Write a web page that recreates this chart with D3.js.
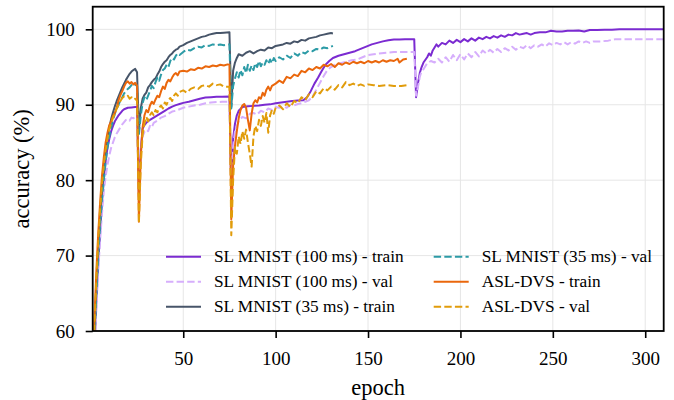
<!DOCTYPE html>
<html>
<head>
<meta charset="utf-8">
<script src="https://cdn.jsdelivr.net/npm/d3@7"></script>
<style>
  body { margin: 0; background: #fff; }
  svg { display: block; }
  svg text { font-family: "Liberation Serif", "Times New Roman", serif; fill: #000; }
</style>
</head>
<body>
<svg id="chart" width="674" height="400"></svg>
<script>
// accuracy (%) per epoch: [epoch, accuracy]
var mnist100Train = [
  [1,48],[2,58],[3,64],[4,69],[5,73],[6,77],[7,80],[8,82.5],[9,84.3],[10,85.5],[11,86.5],[12,87.2],[13,87.8],[14,88.2],[15,88.6],[16,88.9],[17,89.2],[18,89.4],[19,89.5],[20,89.6],[22,89.65],[24,89.7],[25,89.7],
  [26,77.8],[27,84],[28,86.8],[29,87.3],[30,87.6],[32,88.0],[34,88.3],[36,88.6],[38,88.9],[40,89.2],[42,89.5],[44,89.75],[46,89.95],[48,90.1],[50,90.25],[53,90.4],[56,90.6],[59,90.8],[62,90.95],[65,91.0],[68,91.05],[71,91.07],[75,91.1],
  [76,78.3],[77,85.5],[78,87.5],[79,88.6],[80,89.2],[82,89.7],[85,89.8],[88,89.85],[91,89.9],[94,90.0],[97,90.05],[100,90.2],[103,90.3],[106,90.4],[109,90.5],[112,90.55],[115,90.6],[117,91.0],[119,91.8],[121,92.8],[123,93.6],[125,94.5],[127,95.3],[129,95.8],[131,96.2],[134,96.5],[137,96.7],[140,96.9],[143,97.1],[146,97.4],[149,97.7],[152,98.0],[155,98.2],[158,98.4],[161,98.55],[164,98.65],[167,98.65],[170,98.7],[175,98.7],
  [176,91.0],[177,92.8],[178,94.2],[179,95.0],[180,95.6],[182,96.3],[183,96.8],[184,96.5],[185,97.2],[187,98.0],[188,97.7],[190,98.2],[192,98.0],[194,98.5],[196,98.2],[198,98.6],[200,98.3],[202,98.7],[204,98.4],[206,98.8],[208,98.5],[210,98.9],[212,98.7],[214,99.0],[216,98.8],[218,99.1],[220,98.9],[222,99.2],[224,99.0],[226,99.3],[228,99.2],[230,99.5],[232,99.3],[234,99.4],[236,99.5],[238,99.3],[240,99.5],[243,99.6],[246,99.6],[249,99.8],[252,99.7],[255,99.7],[258,99.8],[261,99.8],[264,99.85],[267,99.7],[270,99.9],[274,99.9],[278,99.95],[282,99.95],[286,100],[290,100],[295,100],[300,100],[305,100],[310,100]
];
var mnist100Val = [
  [1,47],[2,57],[3,63],[4,68],[5,72],[6,75.5],[7,78.5],[8,80.5],[9,82],[10,83.3],[11,84.3],[12,85],[13,85.7],[14,86.2],[15,86.6],[16,87],[17,87.4],[18,87.7],[19,88],[20,88.1],[21,87.9],[22,88.3],[23,88.2],[24,88.4],[25,88.3],
  [26,78.5],[27,83.5],[28,85.8],[29,86.4],[30,86.7],[31,86.5],[32,87.2],[33,87.0],[34,87.6],[36,87.9],[38,88.3],[40,88.5],[42,88.8],[44,89.1],[46,89.2],[48,89.4],[50,89.6],[53,89.75],[56,89.9],[59,90.0],[62,90.2],[65,90.3],[68,90.35],[71,90.4],[75,90.4],
  [76,79.5],[77,84.5],[78,86.5],[79,87.2],[80,87.8],[82,88.4],[84,88.2],[86,88.8],[88,88.9],[90,88.7],[92,89.2],[94,89.0],[96,89.5],[98,89.3],[100,89.7],[102,89.6],[104,89.8],[106,89.6],[108,90.0],[110,89.9],[112,90.1],[114,90.2],[116,90.4],[118,90.6],[120,91.1],[122,92.0],[124,92.9],[126,93.8],[128,94.6],[130,95.0],[132,95.3],[135,95.5],[138,95.7],[141,95.9],[144,96.0],[147,96.3],[150,96.6],[153,96.7],[156,96.8],[160,96.9],[164,97.0],[168,97.0],[172,97.0],[175,97.0],
  [176,91.2],[177,92.3],[178,93.7],[179,94.5],[180,94.7],[182,95.5],[184,95.8],[186,95.6],[188,96.1],[190,95.6],[192,96.3],[194,95.7],[196,96.6],[198,95.9],[200,96.7],[202,96.0],[204,96.8],[206,96.3],[208,97.0],[210,96.4],[212,97.2],[214,96.8],[216,97.3],[218,96.9],[220,97.4],[222,97.0],[224,97.5],[226,97.2],[228,97.7],[230,97.3],[232,97.7],[234,97.5],[236,97.9],[238,97.5],[240,97.9],[242,97.7],[244,98.0],[246,97.7],[248,98.15],[250,97.9],[252,98.2],[254,98.0],[256,98.3],[258,98.0],[260,98.3],[262,98.1],[264,98.4],[266,98.2],[268,98.4],[270,98.2],[272,98.4],[276,98.4],[280,98.5],[284,98.7],[288,98.7],[292,98.7],[296,98.7],[300,98.7],[305,98.7],[310,98.7]
];
var mnist35Train = [
  [1,50],[2,60],[3,66],[4,71],[5,75],[6,78.5],[7,81.5],[8,83.8],[9,85.5],[10,87],[11,88.1],[12,89],[13,89.8],[14,90.5],[15,91.1],[16,91.7],[17,92.3],[18,92.8],[19,93.3],[20,93.7],[21,94.1],[22,94.4],[23,94.6],[24,94.75],[25,94.3],
  [26,86.5],[27,89.5],[28,90.8],[29,91.3],[30,91.6],[31,92.3],[32,92.6],[33,93.0],[34,93.3],[35,93.5],[36,94.0],[37,94.4],[38,95.0],[39,95.4],[40,95.7],[41,95.9],[42,96.3],[43,96.6],[44,96.8],[45,97.1],[46,97.3],[47,97.4],[48,97.7],[50,97.9],[52,98.2],[54,98.4],[56,98.6],[58,98.8],[60,99.0],[62,99.1],[64,99.3],[66,99.4],[68,99.5],[70,99.5],[72,99.55],[75,99.6],
  [76,89.7],[77,94.5],[78,95.6],[79,96.2],[80,96.7],[82,96.5],[84,96.9],[86,97.1],[88,96.8],[90,97.1],[92,97.3],[94,97.2],[96,97.6],[98,97.5],[100,97.8],[102,97.9],[104,98.0],[106,98.2],[108,98.1],[110,98.4],[112,98.3],[114,98.6],[116,98.5],[118,98.8],[120,98.9],[122,99.0],[124,99.2],[126,99.3],[128,99.4],[130,99.5],[131,99.45]
];
var mnist35Val = [
  [1,49],[2,59],[3,65],[4,70],[5,74],[6,77.5],[7,80],[8,82.5],[9,84.3],[10,85.8],[11,87],[12,88],[13,88.8],[14,89.5],[15,90],[16,90.6],[17,91],[18,91.5],[19,91.8],[20,92.1],[21,92.3],[22,92.6],[23,92.4],[24,92.7],[25,92.5],
  [26,86],[27,88.5],[28,90.2],[29,91.0],[30,90.6],[31,91.2],[32,91.8],[33,92.5],[34,92.2],[35,93.0],[36,93.6],[37,93.2],[38,94.0],[39,94.6],[40,94.8],[41,95.3],[42,95.0],[43,95.8],[44,96.2],[45,96.0],[46,96.5],[47,96.8],[48,96.6],[50,97.0],[52,97.3],[54,97.2],[56,97.5],[58,97.7],[60,97.6],[62,97.9],[64,97.8],[66,98.0],[68,97.9],[70,98.0],[72,97.9],[75,98.0],
  [76,89.5],[77,92.5],[78,93.5],[79,94.3],[80,93.6],[81,94.6],[82,93.9],[83,95.0],[84,94.2],[85,95.3],[86,94.5],[87,95.2],[88,94.6],[89,95.5],[90,95.0],[91,95.8],[92,95.1],[93,95.6],[94,95.3],[95,95.9],[96,95.4],[97,96.0],[98,95.5],[99,96.2],[100,95.8],[102,96.3],[104,96.0],[106,96.5],[108,96.2],[110,96.8],[112,96.5],[114,97.0],[116,96.8],[118,97.2],[120,97.1],[122,97.4],[124,97.3],[126,97.6],[128,97.5],[131,97.8]
];
var aslTrain = [
  [1,52],[2,62],[3,68],[4,73],[5,77],[6,80.5],[7,83],[8,85],[9,86.3],[10,87.3],[11,87.8],[12,88.5],[13,88.9],[14,89.6],[15,90.6],[16,91.3],[17,91.8],[18,92.4],[19,92.9],[20,93.1],[21,92.8],[22,93.0],[23,92.7],[24,92.9],[25,92.5],
  [26,74.5],[27,83],[28,87],[29,88.6],[30,89.3],[31,89.0],[32,89.9],[33,90.4],[34,90.1],[35,90.7],[36,91.2],[37,91.0],[38,91.8],[39,92.4],[40,92.1],[41,92.9],[42,93.3],[43,93.1],[44,93.6],[45,94.0],[46,94.2],[47,93.9],[48,94.4],[50,94.5],[52,94.4],[54,94.7],[56,94.6],[58,94.9],[60,94.8],[62,95.1],[64,95.0],[66,95.2],[68,95.1],[70,95.3],[72,95.2],[74,95.35],[75,95.3],
  [76,74.8],[77,82],[78,84.5],[79,86.5],[80,88.2],[81,89.3],[82,89.9],[83,90.1],[84,89.6],[85,88.0],[86,86.6],[87,88.8],[88,90.2],[89,90.6],[90,90.3],[91,91.0],[92,90.8],[93,91.6],[94,91.2],[95,92.0],[96,92.4],[97,91.9],[98,92.5],[100,92.8],[102,93.2],[104,92.9],[106,93.7],[108,93.5],[110,94.0],[112,93.8],[114,94.5],[116,94.3],[118,94.8],[120,94.6],[122,95.0],[124,94.8],[126,95.3],[128,95.1],[130,95.4],[132,95.0],[134,95.5],[136,95.3],[138,95.6],[140,95.4],[142,95.7],[144,95.5],[146,95.7],[148,95.5],[150,95.8],[152,95.6],[154,95.8],[156,95.6],[158,95.9],[160,95.7],[162,95.9],[164,95.8],[166,96.1],[167,95.6],[169,96.0],[171,96.1]
];
var aslVal = [
  [1,50],[2,61],[3,67],[4,72],[5,76],[6,79.5],[7,82],[8,84],[9,85.5],[10,86.8],[11,87.5],[12,88.3],[13,88.8],[14,89.5],[15,90.0],[16,90.5],[17,90.9],[18,91.1],[19,91.0],[20,91.2],[21,90.8],[22,91.0],[23,90.7],[24,90.8],[25,90.5],
  [26,74.3],[27,82],[28,86],[29,87.5],[30,88.4],[31,87.8],[32,88.6],[33,89.0],[34,88.6],[35,89.3],[36,89.0],[37,89.6],[38,89.9],[39,89.5],[40,90.3],[41,90.0],[42,90.6],[43,90.9],[44,90.5],[45,91.2],[46,91.5],[47,91.2],[48,91.7],[50,91.9],[52,91.6],[54,92.1],[56,92.3],[58,92.1],[60,92.5],[62,92.6],[64,92.4],[66,92.8],[68,92.6],[70,92.7],[72,92.4],[75,92.4],
  [76,72.7],[77,80],[78,84.4],[79,83.5],[80,85.8],[81,84.8],[82,86.5],[83,85.5],[84,86.7],[85,85.0],[86,83.5],[87,81.8],[88,85.8],[89,87.2],[90,86.5],[91,88.0],[92,87.2],[93,88.5],[94,87.6],[95,88.9],[96,86.3],[97,88.6],[98,89.3],[99,88.8],[100,89.6],[102,89.9],[104,89.4],[106,90.2],[108,89.7],[110,90.5],[112,90.2],[114,91.0],[116,90.6],[118,91.4],[120,91.0],[122,91.8],[124,91.5],[126,92.2],[128,91.9],[130,92.4],[132,92.0],[134,92.6],[136,92.3],[138,93.0],[140,92.6],[142,92.8],[144,92.5],[146,92.7],[148,92.5],[150,92.7],[153,92.6],[156,92.5],[160,92.6],[164,92.5],[168,92.5],[171,92.6]
];

var seriesNames = ["SL MNIST (100 ms) - train", "SL MNIST (100 ms) - val", "SL MNIST (35 ms) - train",
                   "SL MNIST (35 ms) - val", "ASL-DVS - train", "ASL-DVS - val"];
var seriesColors = ["#7b2bd1", "#d6aefc", "#475569", "#2c9ba6", "#ea670c", "#e19c0b"];
var seriesDashed = [false, true, false, true, false, true];
var seriesData = [mnist100Train, mnist100Val, mnist35Train, mnist35Val, aslTrain, aslVal];

var xTicks = [50, 100, 150, 200, 250, 300];
var yTicks = [60, 70, 80, 90, 100];

var serif = "'Liberation Serif', 'Times New Roman', serif";
var svg = d3.select("#chart");
var margin = {left: 92.7, right: 10.3, top: 6.7, bottom: 69};
var width = 674 - margin.left - margin.right,
    height = 400 - margin.top - margin.bottom;

var x = d3.scaleLinear().domain([1, 310]).range([0, width]);
var y = d3.scaleLinear().domain([60, 103]).range([height, 0]);

var g = svg.append("g").attr("transform", "translate(" + margin.left + "," + margin.top + ")");

g.append("clipPath").attr("id", "plotclip")
  .append("rect").attr("width", width).attr("height", height);

// grid
g.append("g").selectAll("line").data(xTicks).enter().append("line")
  .attr("x1", function(d) { return x(d); }).attr("x2", function(d) { return x(d); })
  .attr("y1", 0).attr("y2", height)
  .attr("stroke", "#e6e6e6").attr("stroke-width", 1);
g.append("g").selectAll("line").data(yTicks).enter().append("line")
  .attr("y1", function(d) { return y(d); }).attr("y2", function(d) { return y(d); })
  .attr("x1", 0).attr("x2", width)
  .attr("stroke", "#e6e6e6").attr("stroke-width", 1);

var line = d3.line().x(function(d) { return x(d[0]); }).y(function(d) { return y(d[1]); });

var lines = g.append("g").attr("clip-path", "url(#plotclip)");
seriesData.forEach(function(data, i) {
  lines.append("path")
    .attr("d", line(data))
    .attr("fill", "none")
    .attr("stroke", seriesColors[i])
    .attr("stroke-width", 2)
    .attr("stroke-linejoin", "round")
    .attr("stroke-dasharray", seriesDashed[i] ? "7.4,3.2" : null);
});

// axes
var xAxis = g.append("g").attr("transform", "translate(0," + height + ")")
  .call(d3.axisBottom(x).tickValues(xTicks).tickSize(7).tickPadding(14).tickSizeOuter(0));
var yAxis = g.append("g")
  .call(d3.axisLeft(y).tickValues(yTicks).tickSize(7).tickPadding(11).tickSizeOuter(0));
[xAxis, yAxis].forEach(function(a) {
  a.attr("font-family", serif).attr("font-size", 19);
  a.select(".domain").remove();
  a.selectAll(".tick line").attr("stroke", "#000").attr("stroke-width", 1.6);
  a.selectAll(".tick text").attr("fill", "#000");
});

g.append("rect").attr("width", width).attr("height", height)
  .attr("fill", "none").attr("stroke", "#000").attr("stroke-width", 1.8);

svg.append("text").attr("x", margin.left + width / 2).attr("y", 395)
  .attr("text-anchor", "middle").attr("font-family", serif).attr("font-size", 22.5).text("epoch");
svg.append("text").attr("transform", "translate(28.5," + (margin.top + height / 2) + ") rotate(-90)")
  .attr("text-anchor", "middle").attr("font-family", serif).attr("font-size", 22.5).text("accuracy (%)");

// legend: two columns, three rows
var legCols = [166, 433.7], legRows = [256.7, 281.7, 306.7];
var leg = svg.append("g");
seriesNames.forEach(function(name, i) {
  var cx = legCols[Math.floor(i / 3)], cy = legRows[i % 3];
  leg.append("line").attr("x1", cx).attr("x2", cx + 35).attr("y1", cy).attr("y2", cy)
    .attr("stroke", seriesColors[i]).attr("stroke-width", 2)
    .attr("stroke-dasharray", seriesDashed[i] ? "7.4,3.2" : null);
  leg.append("text").attr("x", cx + 48).attr("y", cy).attr("dy", "0.33em")
    .attr("font-family", serif).attr("font-size", 17.3).text(name);
});
</script>
</body>
</html>
